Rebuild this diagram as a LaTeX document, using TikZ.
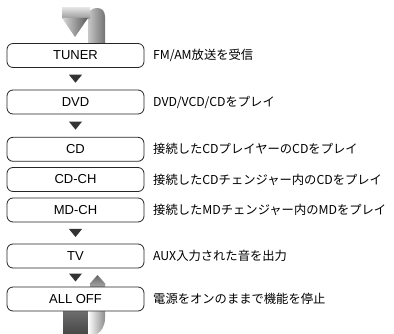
\documentclass[tikz,border=0pt]{standalone}
\usepackage{fontspec}
\setmainfont{Liberation Sans}
\newfontfamily\jp{Noto Sans CJK JP}
\usetikzlibrary{calc}
\newcommand\downtri[2]{%
  \fill[tri] ($(#1.south)!0.5!(#2.north)+(-6.5pt,4pt)$) -- ($(#1.south)!0.5!(#2.north)+(6.5pt,4pt)$) -- ($(#1.south)!0.5!(#2.north)+(0pt,-4pt)$) -- cycle;}
\begin{document}
\begin{tikzpicture}[x=1pt,y=-1pt,
  modebox/.style={draw=black!85, line width=0.8pt, rounded corners=6pt, fill=white,
    minimum width=137pt, minimum height=24pt, inner sep=0pt,
    font=\fontsize{13}{15}\selectfont},
  desc/.style={anchor=west, inner sep=0pt, font=\jp\fontsize{12.3}{14}\selectfont},
  tri/.style={fill=black!80}]
\useasboundingbox[fill=white] (0,0) rectangle (394,334);

% ---- ribbon, top part
\shade[left color=black!22, right color=black!55]
  (88,50) -- (88,17) .. controls (88,11) and (92,8) .. (97,8)
  .. controls (102,8) and (105,11) .. (105,17) -- (105,50) -- cycle;
\shade[top color=black!12, bottom color=black!40]
  (62,8) -- (90,8) -- (90,18.5) -- (62,18.5) -- cycle;
\shade[left color=black!15, right color=black!65]
  (62,18) -- (88,18) -- (75,37) -- cycle;

% ---- ribbon, bottom part
\shade[top color=black!50, bottom color=black!72]
  (63,300) -- (88,300) -- (88,334) -- (63,334) -- cycle;
\shade[left color=white, right color=black!45]
  (88,300) -- (105,300) -- (105,318) .. controls (105,326) and (101,332) .. (97,334)
  -- (88,334) -- cycle;
\shade[top color=black!60, bottom color=black!18]
  (97.5,275) -- (105.5,284) -- (105,284) -- (105,295) -- (90,295) -- (90,284) -- (89.5,284) -- cycle;

% ---- mode boxes
\node[modebox] (tuner)  at (75.5,55.5) {TUNER};
\node[modebox] (dvd)    at (75.5,102)  {DVD};
\node[modebox] (cd)     at (75.5,149.3) {CD};
\node[modebox] (cdch)   at (75.5,179.5) {CD-CH};
\node[modebox] (mdch)   at (75.5,210)  {MD-CH};
\node[modebox] (tv)     at (75.5,256)  {TV};
\node[modebox] (alloff) at (75.5,299)  {ALL OFF};

% ---- descriptions
\node[desc] (dtuner)  at (153,55.5)  {FM/AM放送を受信};
\node[desc] (ddvd)    at (153,102)   {DVD/VCD/CDをプレイ};
\node[desc] (dcd)     at (153,149.3) {接続したCDプレイヤーのCDをプレイ};
\node[desc] (dcdch)   at (153,179.5) {接続したCDチェンジャー内のCDをプレイ};
\node[desc] (dmdch)   at (153,210)   {接続したMDチェンジャー内のMDをプレイ};
\node[desc] (dtv)     at (153,256)   {AUX入力された音を出力};
\node[desc] (dalloff) at (153,299)   {電源をオンのままで機能を停止};

% ---- step arrows
\downtri{tuner}{dvd}
\downtri{dvd}{cd}
\downtri{mdch}{tv}
\downtri{tv}{alloff}
\end{tikzpicture}
\end{document}
